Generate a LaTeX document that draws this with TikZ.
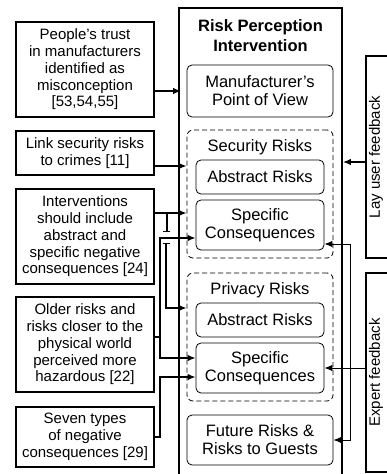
\documentclass[tikz,border=0pt]{standalone}
\usepackage{fontspec}
\setmainfont{Liberation Sans}
\usetikzlibrary{arrows.meta}
\def\srcfont{\fontsize{15}{16.7}\selectfont}
\def\partfont{\fontsize{16.5}{18}\selectfont}
\tikzset{
  src/.style={draw, line width=1.8pt, minimum width=138pt, inner sep=0pt, align=center, font=\srcfont},
  part/.style={draw, line width=0.8pt, rounded corners=5pt, inner sep=0pt, align=center, font=\partfont},
  grp/.style={draw, line width=0.8pt, dash pattern=on 5pt off 3pt, rounded corners=6pt, minimum width=146pt, minimum height=128pt},
  fb/.style={draw, line width=1.8pt, minimum width=34pt, inner sep=0pt},
  arr/.style={line width=1.3pt, -{Latex[length=8pt,width=6.5pt]}},
  thinarr/.style={line width=1pt, -{Latex[length=8pt,width=6.5pt]}},
}

\begin{document}
\begin{tikzpicture}[x=1pt,y=-1pt]
    \useasboundingbox (0,0) rectangle (387,474);
    \node[src, minimum height=95pt] (trust) at (85,69.5) {People’s trust\\in manufacturers\\identified as\\misconception\\{[53,54,55]}};
    \node[src, minimum height=44pt] (link) at (85,153) {Link security risks\\to crimes [11]};
    \node[src, minimum height=95pt] (incl) at (85,236.5) {Interventions\\should include\\abstract and\\specific negative\\consequences [24]};
    \node[src, minimum height=95pt] (older) at (85,344.5) {Older risks and\\risks closer to the\\physical world\\perceived more\\hazardous [22]};
    \node[src, minimum height=60pt] (seven) at (85,437) {Seven types\\of negative\\consequences [29]};

    \node[draw, line width=1.8pt, minimum width=163pt, minimum height=482pt, inner sep=0pt] (frame) at (260.5,249) {};
    \node[font=\bfseries\fontsize{16.5}{20}\selectfont, align=center] (title) at (260.5,36) {Risk Perception\\Intervention};
    \node[part, minimum width=146pt, minimum height=52pt] (view) at (260,91) {Manufacturer’s\\Point of View};
    \node[grp] (sec) at (260,194) {};
    \node[font=\partfont] (sectitle) at (260,147) {Security Risks};
    \node[part, minimum width=128pt, minimum height=34pt] (secabs) at (260,177) {Abstract Risks};
    \node[part, minimum width=128pt, minimum height=50pt] (seccon) at (260,225) {Specific\\Consequences};
    \node[grp] (priv) at (260,337) {};
    \node[font=\partfont] (privtitle) at (260,290) {Privacy Risks};
    \node[part, minimum width=128pt, minimum height=34pt] (privabs) at (260,320) {Abstract Risks};
    \node[part, minimum width=128pt, minimum height=50pt] (privcon) at (260,368) {Specific\\Consequences};
    \node[part, minimum width=146pt, minimum height=50pt] (future) at (260,440) {Future Risks \&\\Risks to Guests};

    \node[fb, minimum height=202pt] (lay) at (383,157) {};
    \node[rotate=90, font=\srcfont] (laytext) at (376,157) {Lay user feedback};
    \node[fb, minimum height=199pt] (expert) at (383,372.5) {};
    \node[rotate=90, font=\srcfont] (experttext) at (376,372.5) {Expert feedback};

    \draw[arr] (trust.east |- view) -- ([xshift=3pt]frame.west |- view);
    \draw[arr] ([yshift=-13pt]link.east) -- ([yshift=-13pt]link.east -| sec.west);
    \draw[arr] ([yshift=23.5pt]incl.east) -- ([yshift=23.5pt]incl.east -| sec.west);
    \draw[line width=1.3pt, -{Bar[width=7pt]}] ([xshift=12pt,yshift=23.5pt]incl.east) -- ++(0,19);
    \draw[arr, {Bar[width=7pt]}-{Latex[length=8pt,width=6.5pt]}] (166,243) |- ([yshift=29pt]priv.west);
    \coordinate (ob) at (160,337);
    \draw[arr] (older.east |- ob) -- (ob) |- ([yshift=-13pt]seccon.west);
    \draw[arr] (ob) |- ([yshift=10pt]privcon.west);
    \draw[arr] (seven.east) -- ++(5,0) |- ([yshift=-9pt]privcon.west);

    \draw[arr] ([yshift=-5pt]lay.west) -- ([yshift=-5pt]lay.west -| frame.east);
    \draw[thinarr] (expert.west |- privcon) -- (privcon.east);
    \coordinate (eb) at (350,368);
    \draw[thinarr] (eb) |- ([yshift=-19pt]seccon.east);
    \draw[thinarr] (eb) |- (future.east);
\end{tikzpicture}
\end{document}
